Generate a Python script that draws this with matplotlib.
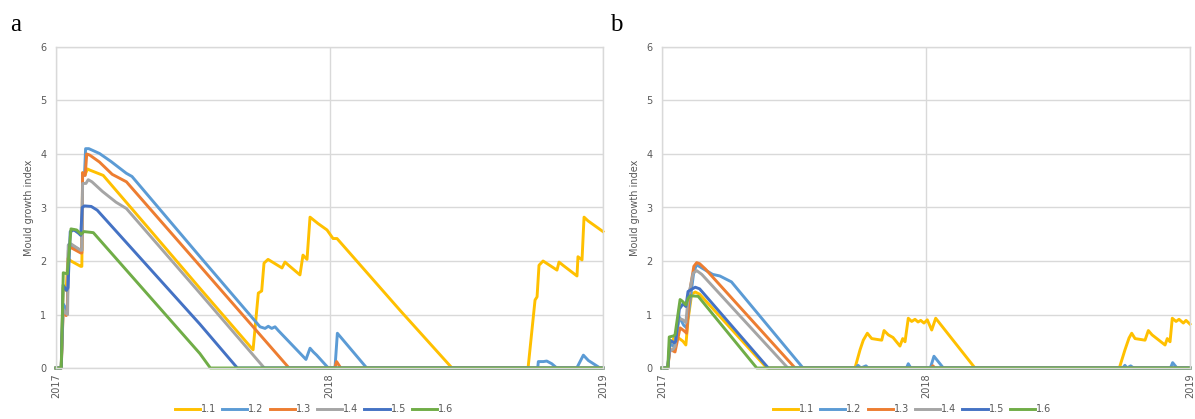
import matplotlib
matplotlib.use("Agg")
import matplotlib.pyplot as plt

# ---------------- data (day of period 2017-01-01 .. 2019-01-01) ----------------
series_names = ["1.1", "1.2", "1.3", "1.4", "1.5", "1.6"]
colors = ["#FFC000", "#5B9BD5", "#ED7D31", "#A5A5A5", "#4472C4", "#70AD47"]

x_tick_days = [0, 365, 730]
x_tick_labels = ["2017", "2018", "2019"]
y_ticks = [0, 1, 2, 3, 4, 5, 6]

# ---- panel a ----
a11_d = [0, 7, 9.5, 13.5, 16, 20, 33, 34.5, 35.5, 39, 42, 45, 63, 125.5, 192, 263, 270, 274.5, 277.6, 283,
         301.6, 305.6, 309.6, 325.6, 329.6, 335, 339, 349.7, 361.7, 369.7, 375, 459, 528.5,
         630, 639.3, 642, 644.6, 650, 668.6, 671.3, 676.6, 695.3, 696.6, 702, 704.7, 710, 730]
a11_v = [0, 0, 1.5, 1.45, 2.05, 2.0, 1.9, 1.9, 3.65, 3.62, 3.72, 3.7, 3.6, 2.58, 1.49, 0.34, 1.4, 1.44, 1.96, 2.03,
         1.87, 1.98, 1.93, 1.74, 2.11, 2.03, 2.82, 2.7, 2.58, 2.42, 2.42, 1.08, 0,
         0, 1.27, 1.33, 1.92, 2.0, 1.83, 1.98, 1.92, 1.72, 2.08, 2.02, 2.82, 2.75, 2.55]

a12_d = [0, 7, 9.5, 13.5, 15, 16.5, 20, 33, 34.5, 35.5, 38, 39.5, 43.8, 58, 73.4, 93.8, 101.4, 192.2, 272.3,
         279, 283.3, 287.9, 292.3, 296.7, 333.6, 339, 343.4, 347.9, 363.4, 372.3, 375.5, 414.7,
         642.9, 643.7, 650.4, 654.9, 661.6, 668.3, 695, 703.8, 710.5, 715, 726, 730]
a12_v = [0, 0, 1.2, 1.1, 1.05, 2.3, 2.3, 2.2, 2.2, 3.6, 3.6, 4.1, 4.1, 4.01, 3.86, 3.64, 3.58, 2.08, 0.77,
         0.74, 0.78, 0.74, 0.77, 0.70, 0.16, 0.37, 0.30, 0.24, 0, 0, 0.65, 0,
         0, 0.12, 0.12, 0.13, 0.08, 0, 0, 0.24, 0.14, 0.1, 0, 0]

a13_d = [0, 7, 9.5, 13.5, 15, 16.5, 20, 33, 34.5, 35.5, 39, 41, 45, 58, 75, 94, 192, 311, 372, 374.5, 380, 730]
a13_v = [0, 0, 1.05, 0.98, 1.0, 2.2, 2.25, 2.15, 2.15, 3.65, 3.6, 4.0, 3.98, 3.85, 3.62, 3.48, 1.91, 0, 0, 0.12, 0, 0]

a14_d = [0, 7, 9.5, 13.5, 15.5, 16.5, 20, 33, 34.5, 35.5, 40, 43, 48, 62, 80, 94, 192, 278, 730]
a14_v = [0, 0, 1.1, 1.02, 1.0, 2.3, 2.32, 2.2, 2.2, 3.45, 3.45, 3.52, 3.48, 3.3, 3.1, 2.98, 1.40, 0, 0]

a15_d = [0, 7, 9.5, 14, 16, 19, 24, 30, 33, 35, 38, 47, 55, 192, 242, 730]
a15_v = [0, 0, 1.55, 1.45, 1.5, 2.55, 2.58, 2.52, 2.48, 3.0, 3.03, 3.02, 2.95, 0.82, 0, 0]

a16_d = [0, 7, 9.7, 15.1, 20, 27.6, 33.4, 37.4, 49.8, 192, 206, 730]
a16_v = [0, 0, 1.78, 1.76, 2.6, 2.58, 2.5, 2.55, 2.53, 0.27, 0, 0]

# ---- panel b ----
b11_d = [0, 8, 11, 18, 24, 29, 33, 36, 41, 46, 52, 145, 266.8, 273.8, 278.3, 283.9, 289.9, 303.8, 307, 312.9,
         319.4, 329, 332.8, 336, 340.5, 345.2, 349.8, 354, 357.7, 362.2, 366.8, 372.9, 378.4, 432.7,
         632.3, 640.1, 645.7, 649.4, 654, 667.8, 672.4, 677.5, 695.5, 698.6, 702.4, 705.5, 710.7, 714.8,
         720.8, 724.5, 730]
b11_v = [0, 0, 0.42, 0.6, 0.55, 0.5, 0.43, 0.9, 1.38, 1.42, 1.38, 0, 0, 0.34, 0.52, 0.65, 0.55, 0.52, 0.7, 0.62,
         0.57, 0.41, 0.55, 0.49, 0.93, 0.87, 0.91, 0.86, 0.89, 0.84, 0.9, 0.71, 0.93, 0,
         0, 0.34, 0.56, 0.65, 0.55, 0.52, 0.7, 0.62, 0.43, 0.55, 0.49, 0.93, 0.87, 0.91,
         0.84, 0.89, 0.82]

b12_d = [0, 8, 11, 17, 24, 30, 34, 44, 48, 55, 70, 80, 96, 195, 268, 271, 275, 282, 285, 288, 338, 340.5, 344,
         371, 376, 389, 637, 640, 643, 648, 652, 657, 703, 706, 712, 730]
b12_v = [0, 0, 0.45, 0.4, 0.95, 0.8, 0.75, 1.8, 1.93, 1.87, 1.75, 1.72, 1.61, 0, 0, 0.05, 0, 0.04, 0, 0, 0, 0.08, 0,
         0, 0.22, 0, 0, 0.05, 0, 0.04, 0, 0, 0, 0.1, 0, 0]

b13_d = [0, 8, 11, 18, 25, 30, 34, 38, 44, 48, 52, 60, 184, 372, 374.7, 377, 730]
b13_v = [0, 0, 0.35, 0.3, 0.75, 0.7, 0.65, 1.4, 1.9, 1.97, 1.95, 1.85, 0, 0, 0.04, 0, 0]

b14_d = [0, 8, 10, 15, 18, 23, 29, 33, 36, 43, 48, 55, 174, 730]
b14_v = [0, 0, 0.3, 0.35, 0.4, 0.93, 0.9, 0.85, 1.3, 1.77, 1.82, 1.75, 0, 0]

b15_d = [0, 8, 11, 17, 19, 24, 29, 33, 36, 42, 46, 52, 147, 730]
b15_v = [0, 0, 0.52, 0.47, 0.5, 1.1, 1.2, 1.15, 1.43, 1.48, 1.51, 1.48, 0, 0]

b16_d = [0, 8, 10, 16, 18, 25, 28, 33, 36, 39, 50, 131, 730]
b16_v = [0, 0, 0.58, 0.6, 0.62, 1.28, 1.25, 1.18, 1.3, 1.35, 1.34, 0, 0]

panel_a = [(a11_d, a11_v), (a12_d, a12_v), (a13_d, a13_v), (a14_d, a14_v), (a15_d, a15_v), (a16_d, a16_v)]
panel_b = [(b11_d, b11_v), (b12_d, b12_v), (b13_d, b13_v), (b14_d, b14_v), (b15_d, b15_v), (b16_d, b16_v)]

# ---------------- figure ----------------
W, H = 1195, 419
fig = plt.figure(figsize=(W / 100, H / 100), dpi=100)
grid_c = "#D9D9D9"
text_c = "#595959"


def make_axes(left_px, right_px, letter, letter_x):
    ax = fig.add_axes([left_px / W, 1 - 368 / H, (right_px - left_px) / W, (368 - 47) / H])
    ax.set_xlim(0, 730)
    ax.set_ylim(0, 6)
    ax.set_yticks(y_ticks)
    ax.set_xticks(x_tick_days)
    ax.set_xticklabels(x_tick_labels, rotation=90, fontsize=7, color=text_c)
    ax.tick_params(axis="both", length=0, labelsize=7, labelcolor=text_c)
    ax.tick_params(axis="x", pad=4)
    ax.tick_params(axis="y", pad=7)
    ax.grid(True, color=grid_c, lw=1.0)
    ax.set_axisbelow(True)
    for s in ax.spines.values():
        s.set_color(grid_c)
        s.set_linewidth(1.0)
    ax.set_ylabel("Mould growth index", fontsize=7, color=text_c, labelpad=4)
    fig.text(letter_x / W, 1 - 25 / H, letter, fontsize=18, family="Liberation Serif",
             va="center", ha="left")
    return ax


ax_a = make_axes(56, 603, "a", 10)
ax_b = make_axes(662, 1190, "b", 610)

for ax, data, lcx in [(ax_a, panel_a, 314), (ax_b, panel_b, 912)]:
    handles = []
    for (d, v), c, name in zip(data, colors, series_names):
        h, = ax.plot(d, v, color=c, lw=2.1, solid_joinstyle="round", label=name, clip_on=False)
        handles.append(h)
    leg = fig.legend(handles=handles, loc="center", bbox_to_anchor=(lcx / W, 1 - 409 / H),
                     ncol=6, frameon=False, fontsize=7, handlelength=2.6, handletextpad=0.1,
                     columnspacing=0.6, borderpad=0)
    for t in leg.get_texts():
        t.set_color(text_c)

fig.savefig("out.png", dpi=100)
